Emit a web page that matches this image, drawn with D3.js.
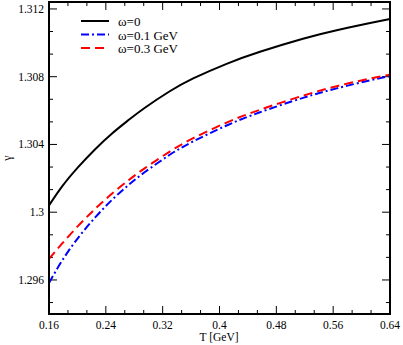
<!DOCTYPE html>
<html><head><meta charset="utf-8">
<script src="https://cdn.jsdelivr.net/npm/d3@7"></script>
<style>body{margin:0;background:#fff}svg{display:block}text{font-family:"Liberation Serif","Times New Roman",serif;fill:#000}</style>
</head><body><svg id="c" width="403" height="345"></svg>
<script>
const xTicks = [0.16, 0.24, 0.32, 0.4, 0.48, 0.56, 0.64];
const xTickLabels = ["0.16","0.24","0.32","0.4","0.48","0.56","0.64"];
const yTicks = [1.296, 1.3, 1.304, 1.308, 1.312];
const yTickLabels = ["1.296","1.3","1.304","1.308","1.312"];
const seriesNames = ["ω=0", "ω=0.1 GeV", "ω=0.3 GeV"];
const T  = [0.16, 0.178, 0.201, 0.225, 0.248, 0.272, 0.295, 0.33, 0.363, 0.41, 0.457, 0.5175, 0.565, 0.612, 0.64];
const g0 = [1.30040, 1.30150, 1.30266, 1.30372, 1.30462, 1.30544, 1.30617, 1.30714, 1.30790, 1.30876, 1.30947, 1.31024, 1.31074, 1.31117, 1.31141];
const g1 = [1.29582, 1.29711, 1.29849, 1.29969, 1.30070, 1.30161, 1.30237, 1.30339, 1.30418, 1.30512, 1.30590, 1.30675, 1.30731, 1.30779, 1.30804];
const g3 = [1.29724, 1.29813, 1.29919, 1.30020, 1.30107, 1.30189, 1.30260, 1.30358, 1.30437, 1.30529, 1.30605, 1.30688, 1.30744, 1.30789, 1.30812];

const L=49,R=390,Tp=2,B=314;
const x=d3.scaleLinear().domain([0.16,0.64]).range([L,R]);
const y=d3.scaleLinear().domain([1.29399,1.31241]).range([B,Tp]);
const svg=d3.select("#c");

// minor ticks (two between majors)
const xMinor=[], yMinor=[];
for(let i=0;i<xTicks.length-1;i++){for(let k=1;k<3;k++)xMinor.push(xTicks[i]+(xTicks[i+1]-xTicks[i])*k/3);}
const yAll=[1.292,...yTicks,1.316];
for(let i=0;i<yAll.length-1;i++){for(let k=1;k<3;k++){const v=yAll[i]+(yAll[i+1]-yAll[i])*k/3; if(v>1.2941&&v<1.3123) yMinor.push(v);}}
const ticks=svg.append("g").attr("stroke","#000").attr("stroke-width",1);
function xt(v,len){ticks.append("line").attr("x1",x(v)).attr("x2",x(v)).attr("y1",B).attr("y2",B-len);
  ticks.append("line").attr("x1",x(v)).attr("x2",x(v)).attr("y1",Tp).attr("y2",Tp+len);}
function yt(v,len){ticks.append("line").attr("y1",y(v)).attr("y2",y(v)).attr("x1",L).attr("x2",L+len);
  ticks.append("line").attr("y1",y(v)).attr("y2",y(v)).attr("x1",R).attr("x2",R-len);}
xTicks.forEach(v=>xt(v,8)); xMinor.forEach(v=>xt(v,4));
yTicks.forEach(v=>yt(v,8)); yMinor.forEach(v=>yt(v,4));

// labels
svg.append("g").selectAll("text").data(xTicks).join("text").attr("x",d=>x(d)).attr("y",329)
  .attr("text-anchor","middle").attr("font-size",11.5).text((d,i)=>xTickLabels[i]);
svg.append("g").selectAll("text").data(yTicks).join("text").attr("x",44).attr("y",d=>y(d)+4)
  .attr("text-anchor","end").attr("font-size",11.5).text((d,i)=>yTickLabels[i]);
svg.append("text").attr("x",219).attr("y",341).attr("text-anchor","middle").attr("font-size",11.5).text("T [GeV]");
svg.append("text").attr("transform","translate(11,158) rotate(-90)").attr("text-anchor","middle").attr("font-size",12).text("γ");

// curves
const line=d3.line().x(d=>x(d[0])).y(d=>y(d[1])).curve(d3.curveNatural);
const series=[
 {g:g0,color:"#000",dash:null},
 {g:g1,color:"#0000ff",dash:"8,3,2,3"},
 {g:g3,color:"#ff0000",dash:"9,5"}];
const plot=svg.append("g");
series.forEach(s=>{
  plot.append("path").datum(T.map((t,i)=>[t,s.g[i]])).attr("d",line).attr("fill","none")
   .attr("stroke",s.color).attr("stroke-width",2).attr("stroke-dasharray",s.dash);
});
// frame
svg.append("rect").attr("x",L).attr("y",Tp).attr("width",R-L).attr("height",B-Tp)
  .attr("fill","none").attr("stroke","#000").attr("stroke-width",2);

// legend
const lg=svg.append("g");
series.forEach((s,i)=>{
  const yy=21+i*13.5;
  lg.append("line").attr("x1",81).attr("x2",109).attr("y1",yy).attr("y2",yy)
    .attr("stroke",s.color).attr("stroke-width",2).attr("stroke-dasharray",s.dash);
  lg.append("text").attr("x",118).attr("y",yy+5).attr("font-size",13).text(seriesNames[i]);
});
</script></body></html>
